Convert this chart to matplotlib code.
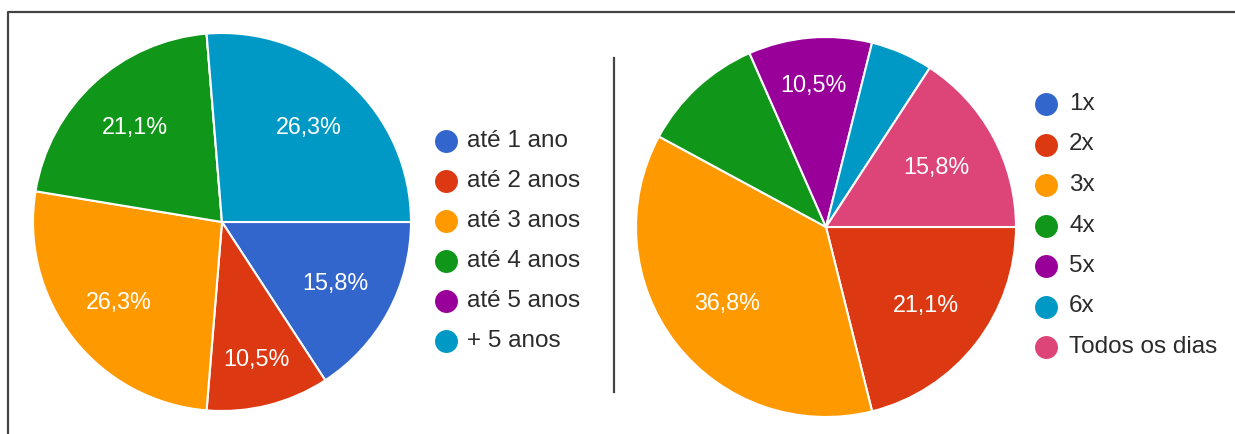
import numpy as np
import matplotlib
matplotlib.use("Agg")
import matplotlib.pyplot as plt
from matplotlib.lines import Line2D

plt.rcParams['font.family'] = ['Liberation Sans', 'DejaVu Sans']

# ---------------- data ----------------
left_categories = ["até 1 ano", "até 2 anos", "até 3 anos", "até 4 anos", "até 5 anos", "+ 5 anos"]
left_values = [15.8, 10.5, 26.3, 21.1, 0.0, 26.3]

right_categories = ["1x", "2x", "3x", "4x", "5x", "6x", "Todos os dias"]
right_values = [0.0, 21.1, 36.8, 10.5, 10.5, 5.3, 15.8]

# ---------------- style ----------------
left_colors = ["#3366cc", "#dc3912", "#ff9900", "#109618", "#990099", "#0099c6"]
right_colors = ["#3366cc", "#dc3912", "#ff9900", "#109618", "#990099", "#0099c6", "#dd4477"]

W, H = 1235, 434
fig = plt.figure(figsize=(W / 100, H / 100), dpi=100)
fig.patch.set_facecolor("white")


def px_axes(cx, cy, r):
    return fig.add_axes([(cx - r) / W, (H - cy - r) / H, 2 * r / W, 2 * r / H])


def fx(x):
    return x / W


def fy(y):
    return 1 - y / H


def fmt(v):
    return f"{v:.1f}%".replace(".", ",")


def draw_pie(ax, values, colors, label_dist):
    wedges, _ = ax.pie(values, colors=colors, startangle=0, counterclock=False,
                       radius=1.0, wedgeprops=dict(edgecolor="white", linewidth=1.5))
    ax.set_xlim(-1, 1)
    ax.set_ylim(-1, 1)
    ax.set_aspect("equal")
    ax.axis("off")
    for i, w in enumerate(wedges):
        if i not in label_dist:
            continue
        dist = label_dist[i]
        a = np.deg2rad(0.5 * (w.theta1 + w.theta2))
        ax.text(dist * np.cos(a), dist * np.sin(a), fmt(values[i]), color="white",
                fontsize=16.8, ha="center", va="center")


# left pie
axL = px_axes(222, 222, 189)
draw_pie(axL, left_values, left_colors,
         {0: 0.68, 1: 0.75, 2: 0.69, 3: 0.68, 5: 0.68})

# right pie
axR = px_axes(826, 227, 190)
draw_pie(axR, right_values, right_colors,
         {1: 0.67, 2: 0.66, 4: 0.75, 6: 0.66})


# legends
def draw_legend(categories, colors, mx, tx, y0, dy):
    for i, (c, col) in enumerate(zip(categories, colors)):
        y = y0 + i * dy
        fig.add_artist(Line2D([fx(mx)], [fy(y)], marker="o", markersize=15.5,
                              markerfacecolor=col, markeredgecolor=col,
                              transform=fig.transFigure, linestyle="none"))
        fig.text(fx(tx), fy(y), c, fontsize=17.5, color="#2b2b2b", ha="left", va="center")


draw_legend(left_categories, left_colors, 446, 467, 141, 40)
draw_legend(right_categories, right_colors, 1046, 1069, 104, 40.5)

# frame and separator
fig.add_artist(Line2D([fx(7.5), fx(7.5), fx(1235)], [fy(434), fy(11.5), fy(11.5)],
                      color="#444444", linewidth=1.6, transform=fig.transFigure))
fig.add_artist(Line2D([fx(614), fx(614)], [fy(58), fy(392)],
                      color="#444444", linewidth=1.6, transform=fig.transFigure))

fig.savefig("out.png", dpi=100, facecolor="white")
